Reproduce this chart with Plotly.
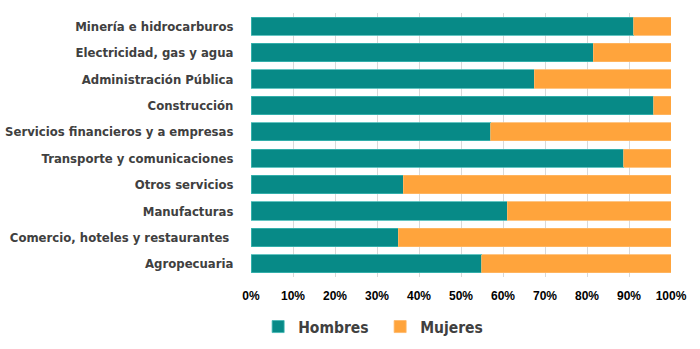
import plotly.graph_objects as go

# Sectors, listed bottom to top as drawn on the category axis
sectores = [
    "Agropecuaria",
    "Comercio, hoteles y restaurantes ",
    "Manufacturas",
    "Otros servicios",
    "Transporte y comunicaciones",
    "Servicios financieros y a empresas",
    "Construcción",
    "Administración Pública",
    "Electricidad, gas y agua",
    "Minería e hidrocarburos",
]
hombres = [54.9, 35.0, 61.0, 36.2, 88.7, 57.1, 95.9, 67.4, 81.5, 91.1]
mujeres = [round(100 - h, 1) for h in hombres]

tick_vals = [0, 10, 20, 30, 40, 50, 60, 70, 80, 90, 100]
tick_text = [f"{v}%" for v in tick_vals]

narrow = "DejaVu Sans Condensed, Liberation Sans"

fig = go.Figure()
fig.add_trace(go.Bar(
    y=sectores, x=hombres, name="Hombres", orientation="h",
    marker=dict(color="#078A87", line=dict(color="#3FB7B3", width=0.8)),
))
fig.add_trace(go.Bar(
    y=sectores, x=mujeres, name="Mujeres", orientation="h",
    marker=dict(color="#FFA43C", line=dict(color="#FFB866", width=0.8)),
))

fig.update_layout(
    width=700, height=349,
    barmode="stack", bargap=0.31,
    margin=dict(l=251, r=29, t=13, b=72, autoexpand=False),
    plot_bgcolor="white", paper_bgcolor="white",
    xaxis=dict(
        range=[0, 100], tickvals=tick_vals, ticktext=tick_text,
        showgrid=True, gridcolor="#D9D9D9", gridwidth=1,
        zeroline=False, showline=False, automargin=False,
        ticks="outside", ticklen=8, tickcolor="rgba(0,0,0,0)",
        tickfont=dict(family="Liberation Sans", size=12, color="#000000", weight="bold"),
    ),
    yaxis=dict(
        showgrid=False, zeroline=False, showline=False, automargin=False,
        ticks="outside", ticklen=14, tickcolor="rgba(0,0,0,0)",
        tickfont=dict(family=narrow, size=13, color="#404040", weight="bold"),
    ),
    legend=dict(
        orientation="h", x=0.017, y=-0.125, xanchor="left", yanchor="top",
        font=dict(family=narrow, size=15.5, color="#404040", weight="bold"),
        itemwidth=30, traceorder="normal", entrywidth=77,
    ),
)

fig.write_html("out.html")
